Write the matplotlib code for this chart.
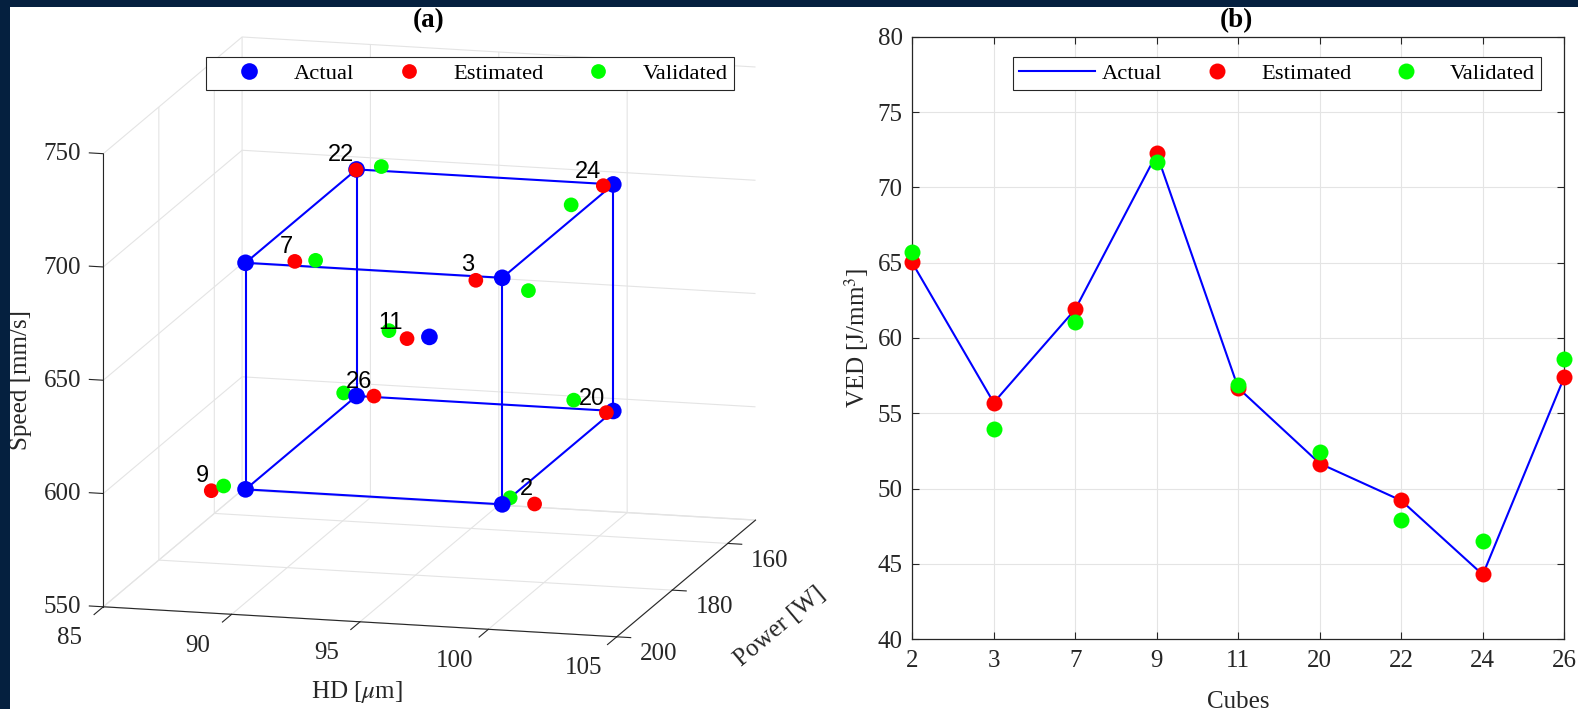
import numpy as np
import matplotlib
matplotlib.use("Agg")
import matplotlib.pyplot as plt
from matplotlib.lines import Line2D
from matplotlib.patches import Rectangle

W, H = 1578, 709
DARK = "#262626"
GRID = "#e4e4e4"
NAVY = "#05203f"

plt.rcParams.update({
    "font.family": ["Liberation Serif", "DejaVu Serif"],
    "mathtext.fontset": "stix",
    "axes.edgecolor": DARK,
    "axes.linewidth": 0.8,
    "grid.color": GRID,
    "grid.linewidth": 0.8,
    "xtick.color": DARK,
    "ytick.color": DARK,
    "xtick.major.width": 0.8,
    "ytick.major.width": 0.8,
})

# ------------------------------------------------------------------ data
cubes = [2, 3, 7, 9, 11, 20, 22, 24, 26]

# actual process parameters (hatch distance um, laser power W, scan speed mm/s)
hd_actual = [100, 100, 90, 90, 95, 100, 90, 100, 90]
power_actual = [195, 195, 195, 195, 175, 155, 155, 155, 155]
speed_actual = [600, 700, 700, 600, 650, 600, 700, 700, 600]

# estimated parameters
hd_est = [101.8, 98.43, 92.46, 87.8, 93.75, 99.84, 90.09, 99.72, 90.57]
power_est = [200, 190, 200, 187, 171.5, 156, 156, 156, 154]
speed_est = [606.5, 692.7, 707.4, 589.7, 644.8, 600.2, 700.85, 700.3, 599.3]

# validated parameters
hd_val = [100.2, 99.83, 93.27, 88.39, 93.1, 98.6, 90.64, 98.9, 89.39]
power_val = [194, 184, 200, 188, 172, 156.3, 152, 160, 154]
speed_val = [602.0, 682.9, 708.4, 593.2, 648.4, 605.2, 698.6, 695.4, 599.9]

# volumetric energy density, J/mm^3
ved_actual = [65.00, 55.71, 61.90, 72.22, 56.68, 51.67, 49.21, 44.29, 57.41]
ved_est = [65.02, 55.71, 61.93, 72.26, 56.66, 51.66, 49.27, 44.31, 57.43]
ved_val = [65.69, 53.96, 61.06, 71.66, 56.90, 52.41, 47.94, 46.55, 58.59]

# edges of the design cube (pairs of cube numbers)
cube_edges = [(9, 2), (2, 3), (3, 7), (7, 9), (26, 20), (20, 24), (24, 22),
              (22, 26), (9, 26), (2, 20), (3, 24), (7, 22)]

hd_lim = (85, 105)
power_lim = (200, 150)      # drawn front (200) to back (150)
speed_lim = (550, 750)
hd_ticks = [85, 90, 95, 100, 105]
power_ticks = [160, 180, 200]
speed_ticks = [550, 600, 650, 700, 750]
ved_ticks = [40, 45, 50, 55, 60, 65, 70, 75, 80]

# ------------------------------------------------------------------ styling
MS_BLUE = 12.0      # marker diameters, points
MS_SMALL = 10.6
MS_2D = 11.5
TICK_FS = 18
LABEL_FS = 18
TITLE_FS = 19.5
LEG_FS = 16.2

# offsets of the cube-number labels from their points (HD, speed)
label_offsets = [(0.93, 7.2), (-1.36, 4.7), (1.6, 8.2), (-1.67, 4.8),
                 (-1.51, 5.0), (-0.84, 4.7), (-0.62, 6.0), (-0.97, 5.0),
                 (0.11, 6.4)]

fig = plt.figure(figsize=(W / 100, H / 100), dpi=100)
fig.patch.set_facecolor("white")


def fxy(x, y):
    """pixel position (from top-left) -> figure fraction"""
    return x / W, 1 - y / H


# ------------------------------------------------------------------ (a) 3D
S = 700
ax = fig.add_axes([69.95 / W, 12.65 / H, S / W, S / H], projection="3d",
                  proj_type="ortho", computed_zorder=False)
ax.patch.set_facecolor("none")
ax.set_box_aspect((530.9, 544.3, 464.6), zoom=1.2359)
ax.view_init(elev=12.81, azim=-75.23)
ax.set_xlim(*hd_lim)
ax.set_ylim(*power_lim)
ax.set_zlim(*speed_lim)
# no grid line on the far right edge: last HD tick mark is added by hand
ax.set_xticks(hd_ticks[:-1])
ax.set_yticks(power_ticks)
ax.set_zticks(speed_ticks)
ax.zaxis.set_ticks_position("upper")

for axis in (ax.xaxis, ax.yaxis, ax.zaxis):
    axis.set_pane_color("white")
    axis.line.set_color(DARK)
    axis.line.set_linewidth(0.8)
    axis._axinfo["tick"]["inward_factor"] = 0.0
    axis.set_tick_params(labelbottom=False)
    axis.label.set_visible(False)
    axis.get_offset_text().set_visible(False)
ax.xaxis.pane.set_edgecolor("white")
ax.yaxis.pane.set_edgecolor("white")
ax.zaxis.pane.set_edgecolor(GRID)
# tick marks point away from the box
X_TICK_OUT = 0.83
ax.xaxis._axinfo["tick"]["outward_factor"] = -X_TICK_OUT
ax.yaxis._axinfo["tick"]["outward_factor"] = -0.34
ax.zaxis._axinfo["tick"]["outward_factor"] = 0.34
tick_len_power = X_TICK_OUT * 0.08 * abs(power_lim[0] - power_lim[1])
ax.plot([hd_ticks[-1]] * 2, [power_lim[0], power_lim[0] + tick_len_power],
        [speed_lim[0]] * 2, color=DARK, lw=0.8, zorder=0.5)

idx = {c: i for i, c in enumerate(cubes)}
for a, b in cube_edges:
    i, j = idx[a], idx[b]
    ax.plot([hd_actual[i], hd_actual[j]], [power_actual[i], power_actual[j]],
            [speed_actual[i], speed_actual[j]], color="blue", lw=1.5, zorder=1)

# all markers in one collection so they are depth sorted together
n = len(cubes)
hd_all = np.concatenate([hd_actual, hd_est, hd_val])
pw_all = np.concatenate([power_actual, power_est, power_val])
sp_all = np.concatenate([speed_actual, speed_est, speed_val])
col_all = ["blue"] * n + ["red"] * n + ["lime"] * n
size_all = [MS_BLUE ** 2] * n + [MS_SMALL ** 2] * (2 * n)
ax.scatter(hd_all, pw_all, sp_all, c=col_all, s=size_all, depthshade=False,
           linewidths=0, zorder=2)

for c, (dh, dv) in zip(cubes, label_offsets):
    i = idx[c]
    ax.text(hd_actual[i] + dh, power_actual[i], speed_actual[i] + dv, str(c),
            ha="center", va="center", fontsize=17, family="Liberation Sans",
            color="black", zorder=3)

# tick labels, placed just outside the axis lines
for t in hd_ticks:
    ax.text(t, 212.07, 548.45, str(t), ha="center", va="center",
            fontsize=TICK_FS, color=DARK)
for t in power_ticks:
    ax.text(106.64, t, 543.49, str(t), ha="center", va="center",
            fontsize=TICK_FS, color=DARK)
for t in speed_ticks:
    ax.text(84.14, 200, t - 0.88, str(t), ha="right", va="center",
            fontsize=TICK_FS, color=DARK)

leg_kw = dict(loc="upper left", ncol=3, frameon=True, fancybox=False,
              borderpad=0.27, handlelength=3.35, handletextpad=0.3,
              columnspacing=0.75, borderaxespad=0, fontsize=LEG_FS,
              edgecolor=DARK, bbox_transform=fig.transFigure)
handles_a = [
    Line2D([], [], ls="none", marker="o", ms=MS_BLUE, mfc="blue", mec="none", label="Actual"),
    Line2D([], [], ls="none", marker="o", ms=MS_SMALL, mfc="red", mec="none", label="Estimated"),
    Line2D([], [], ls="none", marker="o", ms=MS_SMALL, mfc="lime", mec="none", label="Validated"),
]
leg_a = ax.legend(handles=handles_a, bbox_to_anchor=fxy(205.6, 56.7), **leg_kw)
leg_a.get_frame().set_linewidth(0.8)
leg_a.get_frame().set_alpha(1)

fig.text(*fxy(357, 698.3), r"HD [$\mu$m]", ha="center", va="baseline",
         fontsize=LABEL_FS, color=DARK)
fig.text(*fxy(27.4, 380), "Speed [mm/s]", ha="center", va="baseline",
         rotation=90, rotation_mode="anchor", fontsize=LABEL_FS, color=DARK)
fig.text(*fxy(783.5, 631.5), "Power [W]", ha="center", va="baseline",
         rotation=40.06, rotation_mode="anchor", fontsize=LABEL_FS, color=DARK)
fig.text(*fxy(428.6, 20.5), "(a)", ha="center", va="center",
         fontsize=TITLE_FS, fontweight="bold")

# ------------------------------------------------------------------ (b) VED
ax_l, ax_r, ax_t, ax_b = 912.2, 1564.3, 36.7, 639.3
ax2 = fig.add_axes([ax_l / W, (H - ax_b) / H, (ax_r - ax_l) / W,
                    (ax_b - ax_t) / H])
x = np.arange(1, n + 1)
ax2.plot(x, ved_actual, color="blue", lw=1.5, label="Actual", zorder=2)
ax2.plot(x, ved_est, ls="none", marker="o", ms=MS_2D, mfc="red", mec="none",
         label="Estimated", zorder=3, clip_on=False)
ax2.plot(x, ved_val, ls="none", marker="o", ms=MS_2D, mfc="lime", mec="none",
         label="Validated", zorder=4, clip_on=False)
ax2.set_xlim(1, n)
ax2.set_ylim(40, 80)
ax2.set_xticks(x)
ax2.set_xticklabels([str(c) for c in cubes])
ax2.set_yticks(ved_ticks)
ax2.tick_params(direction="in", length=5, width=0.8, top=True, right=True,
                labelsize=TICK_FS, colors=DARK)
ax2.tick_params(axis="x", pad=7.4)
ax2.tick_params(axis="y", pad=6.8)
ax2.grid(True, color=GRID, lw=0.8)
ax2.set_axisbelow(True)
for sp in ax2.spines.values():
    sp.set_color(DARK)
    sp.set_linewidth(0.9)

ax2.set_xlabel("Cubes", fontsize=LABEL_FS, color=DARK, va="baseline")
ax2.xaxis.set_label_coords(0.5, (ax_b - 708) / (ax_b - ax_t))
ax2.set_ylabel(r"VED [J/mm$^3$]", fontsize=LABEL_FS, color=DARK,
               va="baseline")
ax2.yaxis.set_label_coords((864.5 - ax_l) / (ax_r - ax_l), 0.5)

leg_b = ax2.legend(bbox_to_anchor=fxy(1013.4, 56.7), **leg_kw)
leg_b.get_frame().set_linewidth(0.8)
leg_b.get_frame().set_alpha(1)

fig.text(*fxy(1236.7, 20.5), "(b)", ha="center", va="center",
         fontsize=TITLE_FS, fontweight="bold")

# page frame strips
fig.add_artist(Rectangle((0, 1 - 7 / H), 1, 7 / H, transform=fig.transFigure,
                         color=NAVY, zorder=10, lw=0))
fig.add_artist(Rectangle((0, 0), 10 / W, 1, transform=fig.transFigure,
                         color=NAVY, zorder=10, lw=0))

fig.savefig("out.png", dpi=100)
